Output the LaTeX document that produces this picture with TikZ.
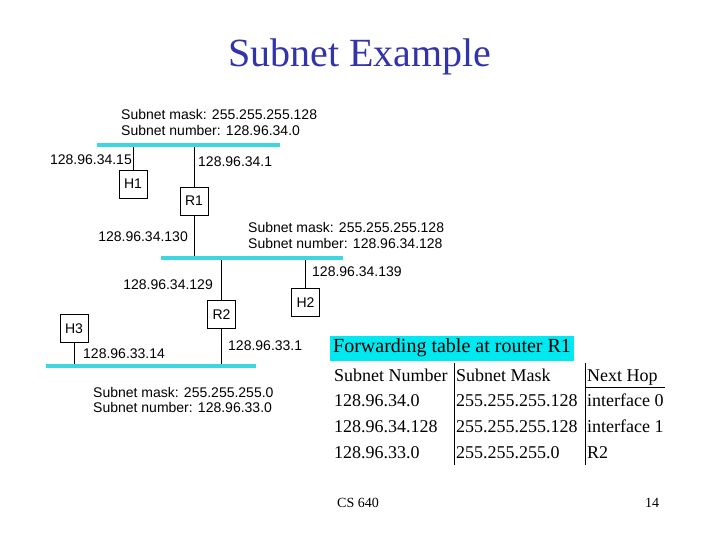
\documentclass[tikz,border=0pt]{standalone}
\usepackage{fontspec}
\setmainfont{Liberation Serif}
\newfontfamily\arial{Liberation Sans}
\definecolor{netcyan}{RGB}{60,215,225}
\definecolor{bandcyan}{RGB}{0,232,240}
\definecolor{titleblue}{RGB}{51,51,170}
\tikzset{
    hostbox/.style={rectangle, draw, minimum width=28pt, minimum height=28pt, inner sep=0pt, font=\arial\fontsize{14}{15}\selectfont},
    addr/.style={inner sep=0pt, font=\arial\fontsize{14}{15}\selectfont},
    netinfo/.style={inner sep=0pt, align=left, font=\arial\fontsize{14}{15.5}\selectfont},
    net/.style={netcyan, line width=3.5pt},
    cell/.style={anchor=base west, inner sep=0pt, font=\fontsize{18}{20}\selectfont}
}
\begin{document}
\begin{tikzpicture}[x=1pt, y=-1pt]
        \useasboundingbox (0, 0) rectangle (720, 540);
        \node (title) at (360, 57) [font=\fontsize{40}{44}\selectfont, text=titleblue] {Subnet Example};

        % networks
        \coordinate (n1a) at (97, 145);
        \coordinate (n1b) at (280, 145);
        \coordinate (n2a) at (161, 258);
        \coordinate (n2b) at (343, 258);
        \coordinate (n3a) at (46, 366);
        \coordinate (n3b) at (256, 366);

        \node (mask1) at (121, 122.5) [netinfo, anchor=west] {Subnet mask: 255.255.255.128\\Subnet number: 128.96.34.0};
        \node (mask2) at (248, 235.5) [netinfo, anchor=west] {Subnet mask: 255.255.255.128\\Subnet number: 128.96.34.128};
        \node (mask3) at (93, 400) [netinfo, anchor=west] {Subnet mask: 255.255.255.0\\Subnet number: 128.96.33.0};

        % hosts and routers
        \node[hostbox] (H1) at (133, 184) {H1};
        \node[hostbox] (R1) at (194, 201) {R1};
        \node[hostbox] (R2) at (221.5, 314.5) {R2};
        \node[hostbox] (H2) at (305.5, 302.5) {H2};
        \node[hostbox] (H3) at (74, 328.5) {H3};

        \draw (H1.north) -- (H1.north |- n1a);
        \draw (R1.north) -- (R1.north |- n1a);
        \draw (R1.south) -- (R1.south |- n2a);
        \draw (R2.north) -- (R2.north |- n2a);
        \draw (H2.north) -- (H2.north |- n2a);
        \draw (R2.south) -- (R2.south |- n3a);
        \draw (H3.south) -- (H3.south |- n3a);

        \draw[net] (n1a) -- (n1b);
        \draw[net] (n2a) -- (n2b);
        \draw[net] (n3a) -- (n3b);

        \node (a1) at (132, 160) [addr, anchor=east] {128.96.34.15};
        \node (a2) at (198, 162) [addr, anchor=west] {128.96.34.1};
        \node (a3) at (188, 237) [addr, anchor=east] {128.96.34.130};
        \node (a4) at (213, 285) [addr, anchor=east] {128.96.34.129};
        \node (a5) at (312, 272) [addr, anchor=west] {128.96.34.139};
        \node (a6) at (228, 346) [addr, anchor=west] {128.96.33.1};
        \node (a7) at (83, 354) [addr, anchor=west] {128.96.33.14};

        % forwarding table
        \node (ftitle) at (330, 348) [anchor=west, fill=bandcyan, inner xsep=3pt, inner ysep=0pt, minimum height=25pt, font=\fontsize{20}{22}\selectfont] {Forwarding table at router R1};
        \node[cell] (sn0) at (334, 381) {Subnet Number};
        \node[cell] (sm0) at (456, 381) {Subnet Mask};
        \node[cell] (nh0) at (587, 381) {Next Hop};
        \node[cell] (sn1) at (334, 406) {128.96.34.0};
        \node[cell] (sm1) at (456, 406) {255.255.255.128};
        \node[cell] (nh1) at (587, 406) {interface 0};
        \node[cell] (sn2) at (334, 432) {128.96.34.128};
        \node[cell] (sm2) at (456, 432) {255.255.255.128};
        \node[cell] (nh2) at (587, 432) {interface 1};
        \node[cell] (sn3) at (334, 458) {128.96.33.0};
        \node[cell] (sm3) at (456, 458) {255.255.255.0};
        \node[cell] (nh3) at (587, 458) {R2};
        \draw (454, 363) -- (454, 465);
        \draw (585, 363) -- (585, 465);
        \draw (585, 387) -- (665, 387);

        \node (course) at (337, 503) [anchor=west, inner sep=0pt, font=\fontsize{14}{16}\selectfont] {CS 640};
        \node (page) at (652, 503) [inner sep=0pt, font=\fontsize{14}{16}\selectfont] {14};
    \end{tikzpicture}
\end{document}
